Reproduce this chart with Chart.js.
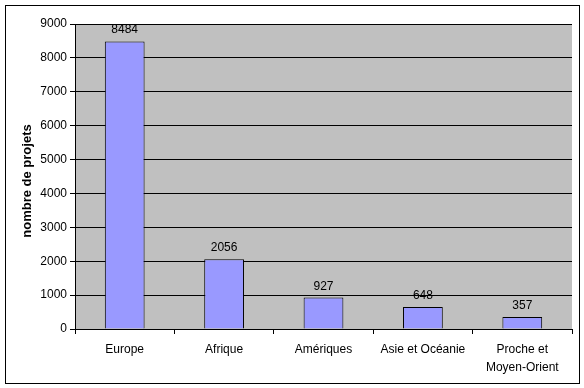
<!DOCTYPE html>
<html>
<head>
<meta charset="utf-8">
<script src="https://cdn.jsdelivr.net/npm/chart.js@4"></script>
<style>
  body { margin: 0; background: #fff; }
  canvas { display: block; }
</style>
</head>
<body>
<canvas id="chart" width="584" height="388"></canvas>
<script>
const regions = ['Europe', 'Afrique', 'Amériques', 'Asie et Océanie', ['Proche et', 'Moyen-Orient']];
const projets = [8484, 2056, 927, 648, 357];
const yTicks = [0, 1000, 2000, 3000, 4000, 5000, 6000, 7000, 8000, 9000];
const titreY = 'nombre de projets';

const fam = '"Liberation Sans", Arial, sans-serif';

// fond gris de la zone de tracé + cadre extérieur + titre vertical
const cadre = {
    id: 'cadre',
    beforeDraw(chart) {
        const { ctx, chartArea: a } = chart;
        ctx.save();
        ctx.fillStyle = '#fff';
        ctx.fillRect(0, 0, chart.width, chart.height);
        ctx.fillStyle = '#c0c0c0';
        ctx.fillRect(a.left, a.top, a.right - a.left, a.bottom - a.top);
        ctx.strokeStyle = '#000';
        ctx.lineWidth = 1;
        ctx.strokeRect(5.5, 5.5, 574, 378);
        ctx.translate(27, 181);
        ctx.rotate(-Math.PI / 2);
        ctx.font = 'bold 13px ' + fam;
        ctx.fillStyle = '#000';
        ctx.textAlign = 'center';
        ctx.textBaseline = 'middle';
        ctx.fillText(titreY, 0, 0);
        ctx.restore();
    }
};

// valeurs au-dessus des barres
const etiquettes = {
    id: 'etiquettes',
    afterDatasetsDraw(chart) {
        const { ctx } = chart;
        const meta = chart.getDatasetMeta(0);
        ctx.save();
        ctx.font = '12px ' + fam;
        ctx.fillStyle = '#000';
        ctx.textAlign = 'center';
        ctx.textBaseline = 'alphabetic';
        meta.data.forEach((bar, i) => {
            ctx.fillText(projets[i], bar.x, bar.y - 8);
        });
        ctx.restore();
    }
};

const font = { family: fam, size: 12 };

new Chart(document.getElementById('chart'), {
    type: 'bar',
    data: {
        labels: regions,
        datasets: [{
            data: projets,
            backgroundColor: '#9999ff',
            borderColor: '#000',
            borderWidth: 1,
            barPercentage: 0.4,
            categoryPercentage: 1
        }]
    },
    options: {
        responsive: false,
        animation: false,
        devicePixelRatio: 1,
        layout: { padding: { top: 24, right: 12, left: 0, bottom: 0 } },
        plugins: { legend: { display: false }, tooltip: { enabled: false } },
        scales: {
            x: {
                offset: true,
                grid: { display: true, drawOnChartArea: false, color: '#000', tickLength: 5 },
                border: { color: '#000' },
                ticks: { color: '#000', font: { family: fam, size: 12, lineHeight: 1.55 }, maxRotation: 0, autoSkip: false, padding: 6 },
                afterFit(scale) { scale.height = 59; }
            },
            y: {
                min: 0,
                max: 9000,
                afterBuildTicks(scale) { scale.ticks = yTicks.map(v => ({ value: v })); },
                grid: { color: '#000', tickLength: 5 },
                border: { color: '#000' },
                ticks: { color: '#000', font: font, padding: 3, callback: v => String(v) },
                afterFit(scale) { scale.width = 75; }
            }
        }
    },
    plugins: [cadre, etiquettes]
});
</script>
</body>
</html>
